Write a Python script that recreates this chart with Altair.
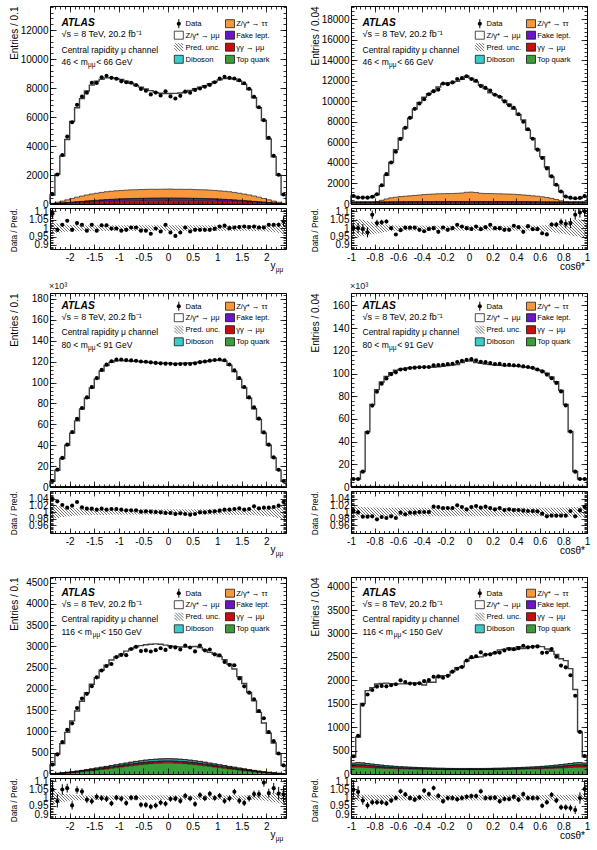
import altair as alt
import pandas as pd

FONT = "Liberation Sans"

# Bin edges of the two observables
Y_EDGES = [round(-2.4 + 0.1 * i, 2) for i in range(49)]
C_EDGES = [round(-1.0 + 0.04 * i, 2) for i in range(51)]

# ---------------- 46 < m < 66 GeV : rapidity ----------------
y46_pred = [620, 2060, 3310, 4450, 5700, 6640, 7270, 7800, 8200, 8480,
            8600, 8700, 8720, 8660, 8590, 8480, 8330, 8180, 8060, 7930,
            7820, 7700, 7640, 7620, 7620, 7630, 7660, 7720, 7830, 7950,
            8050, 8170, 8300, 8430, 8560, 8650, 8700, 8620, 8480, 8250,
            7900, 7330, 6650, 5760, 4480, 3260, 1980, 630]
y46_ratio = [1.087, 0.990, 1.020, 1.044, 0.990, 1.030, 1.020, 0.985, 1.020, 0.985,
             1.017, 1.017, 0.998, 0.998, 0.985, 0.990, 1.004, 1.004, 0.985, 0.985,
             0.967, 0.998, 0.980, 1.020, 0.974, 0.954, 0.974, 1.004, 0.980, 0.990,
             0.990, 0.990, 0.990, 0.996, 1.010, 1.015, 1.000, 1.004, 1.007, 1.010,
             1.007, 1.010, 1.004, 1.004, 1.020, 1.020, 1.020, 1.040]
y46_err = [0.030, 0.013, 0.011, 0.010, 0.010, 0.009, 0.009, 0.009, 0.009, 0.009] + [0.009] * 28 + \
          [0.009, 0.009, 0.009, 0.009, 0.009, 0.010, 0.010, 0.011, 0.013, 0.030]
y46_unc = [0.036, 0.028, 0.024, 0.021, 0.019, 0.018, 0.017, 0.017, 0.017, 0.017] + [0.017] * 28 + \
          [0.017, 0.017, 0.017, 0.017, 0.018, 0.019, 0.021, 0.024, 0.028, 0.036]
y46_tau = [30, 80, 130, 190, 260, 320, 370, 420, 460, 490,
           520, 545, 560, 575, 580, 590, 600, 595, 610, 615,
           620, 610, 615, 620, 625, 610, 615, 610, 620, 605,
           600, 600, 590, 585, 570, 560, 545, 520, 490, 455,
           420, 375, 320, 255, 195, 130, 75, 30]
y46_fake = [3, 8, 15, 22, 30, 40, 50, 60, 70, 80,
            90, 100, 108, 115, 122, 128, 132, 136, 138, 140,
            142, 143, 144, 145, 145, 144, 143, 142, 140, 138,
            136, 132, 128, 122, 115, 108, 100, 90, 80, 70,
            60, 50, 40, 30, 22, 15, 8, 3]
y46_gg = [12, 30, 48, 62, 78, 92, 105, 118, 130, 140,
          150, 160, 168, 175, 182, 188, 192, 196, 198, 200,
          202, 203, 204, 205, 205, 204, 203, 202, 200, 198,
          196, 192, 188, 182, 175, 168, 160, 150, 140, 130,
          118, 105, 92, 78, 62, 48, 30, 12]
y46_dib = [1, 2, 3, 4, 5, 6, 7, 7, 8, 8,
           9, 9, 10, 10, 10, 10, 11, 11, 11, 11,
           11, 11, 11, 11, 11, 11, 11, 11, 11, 11,
           11, 11, 10, 10, 10, 10, 9, 9, 8, 8,
           7, 7, 6, 5, 4, 3, 2, 1]
y46_top = [2, 4, 6, 9, 12, 15, 18, 21, 24, 27,
           30, 33, 35, 37, 39, 41, 42, 43, 44, 45,
           45, 46, 46, 46, 46, 46, 46, 45, 45, 44,
           43, 42, 41, 39, 37, 35, 33, 30, 27, 24,
           21, 18, 15, 12, 9, 6, 4, 2]

# ---------------- 46 < m < 66 GeV : cos theta* ----------------
c46_pred = [780, 630, 625, 635, 660, 920, 1760, 2800, 4050, 5300,
            6420, 7400, 8370, 9250, 9900, 10400, 10750, 11000, 11400, 11700,
            11800, 11850, 11950, 12150, 12450, 12250, 11900, 11580, 11250, 10850,
            10650, 10450, 10100, 9720, 9250, 8700, 8200, 7200, 6400, 5330,
            4620, 3600, 2640, 1830, 1180, 710, 600, 520, 545, 700]
c46_ratio = [1.000, 1.000, 0.995, 0.975, 1.080, 1.030, 1.035, 1.040, 1.000, 0.962,
             0.988, 1.003, 1.003, 1.003, 0.990, 0.982, 0.995, 1.000, 0.978, 1.004,
             0.990, 1.000, 1.020, 1.010, 1.000, 0.995, 1.010, 0.994, 1.006, 1.020,
             1.000, 1.000, 0.990, 0.990, 1.014, 1.006, 0.978, 1.012, 0.994, 0.994,
             0.970, 0.963, 1.022, 1.022, 1.037, 1.026, 1.030, 1.080, 1.093, 1.100]
c46_err = [0.030, 0.030, 0.030, 0.030, 0.025, 0.020, 0.015, 0.012, 0.010, 0.009, 0.008, 0.008] + \
          [0.007] * 26 + \
          [0.008, 0.008, 0.009, 0.010, 0.012, 0.015, 0.020, 0.025, 0.030, 0.030, 0.030, 0.030]
c46_unc = [0.055, 0.052, 0.048, 0.043, 0.037, 0.032, 0.027, 0.022, 0.018, 0.016, 0.015, 0.015, 0.015] + \
          [0.015] * 24 + \
          [0.015, 0.015, 0.015, 0.016, 0.018, 0.022, 0.027, 0.032, 0.037, 0.043, 0.048, 0.052, 0.055]
c46_tau = [0, 0, 0, 0, 0, 40, 150, 280, 380, 440,
           490, 530, 560, 600, 640, 680, 710, 730, 750, 760,
           770, 780, 800, 830, 900, 920, 880, 800, 780, 770,
           760, 750, 740, 730, 710, 680, 650, 610, 570, 530,
           480, 420, 340, 230, 110, 20, 0, 0, 0, 0]
c46_fake = [40, 40, 40, 40, 40, 45, 50, 55, 60, 62,
            64, 66, 68, 70, 70, 70, 70, 70, 70, 70,
            70, 70, 70, 70, 70, 70, 70, 70, 70, 70,
            70, 70, 70, 70, 70, 70, 68, 66, 64, 62,
            60, 55, 50, 45, 40, 40, 40, 40, 40, 40]
c46_gg = [80, 80, 85, 85, 90, 90, 95, 95, 100, 100,
          105, 105, 110, 110, 110, 115, 115, 115, 120, 120,
          120, 120, 120, 120, 120, 120, 120, 120, 120, 120,
          120, 120, 115, 115, 115, 110, 110, 110, 105, 105,
          100, 100, 95, 95, 90, 90, 85, 85, 80, 80]
c46_dib = [20, 20, 20, 19, 19, 18, 18, 17, 17, 16,
           16, 16, 15, 15, 15, 15, 15, 15, 15, 15,
           15, 15, 15, 15, 15, 15, 15, 15, 15, 15,
           15, 15, 15, 15, 15, 15, 15, 16, 16, 16,
           17, 17, 18, 18, 19, 19, 20, 20, 20, 20]
c46_top = [60, 60, 58, 56, 54, 52, 50, 48, 46, 45,
           44, 43, 42, 41, 40, 40, 40, 40, 40, 40,
           40, 40, 40, 40, 40, 40, 40, 40, 40, 40,
           40, 40, 40, 40, 40, 40, 41, 42, 43, 44,
           45, 46, 48, 50, 52, 54, 56, 58, 60, 60]

# ---------------- 80 < m < 91 GeV : rapidity ----------------
y80_pred = [5550, 16100, 27300, 40000, 51600, 63300, 74600, 84900, 94700, 103500,
            111000, 116300, 119300, 120800, 121100, 120900, 120600, 120300, 120000, 119600,
            119200, 118800, 118500, 118400, 118300, 118200, 118200, 118400, 118700, 119100,
            119600, 120200, 120800, 121300, 121500, 120500, 116400, 110600, 103200, 95000,
            85000, 74900, 64700, 51600, 40000, 27900, 16200, 5570]
y80_ratio = [1.039, 1.032, 1.021, 1.013, 1.019, 1.030, 1.014, 1.010, 1.010, 1.007,
             1.010, 1.007, 1.009, 1.009, 1.007, 1.005, 1.005, 1.005, 1.001, 1.002,
             1.001, 1.000, 0.999, 0.997, 0.997, 0.994, 0.996, 0.994, 0.992, 0.994,
             0.999, 0.999, 1.001, 1.002, 1.004, 1.007, 1.007, 1.009, 1.011, 1.007,
             1.009, 1.017, 1.011, 1.013, 1.013, 1.015, 1.019, 1.030]
y80_err = [0.005, 0.003] + [0.002] * 44 + [0.003, 0.005]
y80_unc = [0.022, 0.018, 0.015, 0.013, 0.012, 0.011, 0.010, 0.010, 0.009, 0.009, 0.009, 0.009] + \
          [0.008] * 24 + \
          [0.009, 0.009, 0.009, 0.009, 0.010, 0.010, 0.011, 0.012, 0.013, 0.015, 0.018, 0.022]
y80_tau = [20, 50, 80, 110, 130, 150, 160, 170, 180, 185] + [190] * 28 + \
          [185, 180, 170, 160, 150, 130, 110, 80, 50, 20]
y80_fake = [5, 10, 15, 20, 25, 30, 35, 40, 45, 50] + [50] * 28 + \
           [50, 45, 40, 35, 30, 25, 20, 15, 10, 5]
y80_gg = [30, 60, 90, 110, 125, 135, 140, 145, 148, 150] + [150] * 28 + \
         [150, 148, 145, 140, 135, 125, 110, 90, 60, 30]
y80_dib = [20, 40, 60, 80, 95, 110, 120, 130, 135, 140] + [140] * 28 + \
          [140, 135, 130, 120, 110, 95, 80, 60, 40, 20]
y80_top = [5, 10, 15, 20, 25, 30, 35, 40, 45, 50] + [55] * 28 + \
          [50, 45, 40, 35, 30, 25, 20, 15, 10, 5]

# ---------------- 80 < m < 91 GeV : cos theta* ----------------
c80_pred = [7030, 7060, 13700, 48800, 72700, 85800, 92500, 97500, 100800, 102900,
            103800, 104600, 105100, 105400, 105600, 105700, 105800, 105600, 106000, 106500,
            107000, 107400, 108000, 109600, 111200, 111000, 109800, 109000, 108300, 107900,
            107600, 107200, 107000, 106800, 106600, 106400, 105900, 105500, 104700, 103400,
            102400, 100400, 96900, 92800, 85200, 72700, 48700, 13700, 7030, 6970]
c80_ratio = [1.004, 0.999, 0.986, 0.986, 0.987, 0.978, 0.985, 0.982, 0.987, 0.982,
             0.998, 0.993, 0.998, 0.998, 1.000, 1.000, 1.000, 1.016, 1.015, 1.012,
             1.012, 1.012, 1.020, 1.015, 1.008, 1.015, 1.018, 1.013, 1.016, 1.012,
             1.008, 1.012, 1.006, 1.008, 1.006, 1.006, 1.004, 1.003, 1.003, 1.002,
             0.995, 0.987, 0.989, 0.989, 0.989, 0.989, 1.003, 0.987, 1.005, 1.015]
c80_err = [0.006, 0.006, 0.004] + [0.002] * 44 + [0.004, 0.006, 0.006]
c80_unc = [0.017, 0.016, 0.015, 0.014] + [0.013] * 42 + [0.014, 0.015, 0.016, 0.017]
c80_tau = [20, 30, 40, 60, 80, 100, 110, 120, 125, 130] + [130] * 30 + \
          [130, 125, 120, 110, 100, 80, 60, 40, 30, 20]
c80_fake = [40] * 50
c80_gg = [250, 240, 230, 220, 210, 200, 190, 180, 170, 160] + [150] * 30 + \
         [160, 170, 180, 190, 200, 210, 220, 230, 240, 250]
c80_dib = [150] * 50
c80_top = [60] * 50

# ---------------- 116 < m < 150 GeV : rapidity ----------------
y116_pred = [210, 470, 715, 980, 1250, 1480, 1710, 1910, 2110, 2260,
             2440, 2560, 2680, 2750, 2820, 2890, 2940, 2990, 3020, 3040,
             3050, 3060, 3050, 3030, 3010, 2995, 2990, 2985, 2990, 3000,
             2975, 2920, 2860, 2820, 2760, 2690, 2580, 2470, 2290, 2130,
             1920, 1720, 1450, 1200, 960, 730, 470, 200]
y116_ratio = [1.050, 0.980, 1.050, 1.058, 0.953, 1.047, 1.037, 0.987, 0.978, 1.006,
              0.997, 0.992, 0.965, 1.000, 0.993, 0.967, 1.000, 1.000, 0.957, 0.956,
              0.945, 0.952, 0.970, 0.963, 0.992, 0.994, 0.980, 1.012, 0.995, 0.961,
              1.016, 0.996, 1.024, 0.998, 1.012, 0.980, 0.995, 1.036, 0.981, 0.968,
              0.996, 1.022, 1.022, 1.092, 1.028, 1.058, 1.025, 1.020]
y116_err = [0.050, 0.040, 0.032, 0.027, 0.025, 0.023, 0.021, 0.020, 0.019, 0.019, 0.018, 0.018] + \
           [0.017] * 24 + \
           [0.018, 0.018, 0.019, 0.019, 0.020, 0.021, 0.023, 0.025, 0.027, 0.032, 0.040, 0.050]
y116_unc = [0.045, 0.035, 0.028, 0.022, 0.018, 0.016, 0.015, 0.014, 0.014, 0.014] + [0.014] * 28 + \
           [0.014, 0.014, 0.014, 0.015, 0.016, 0.018, 0.022, 0.028, 0.035, 0.045]
y116_tau = [0, 1, 1, 2, 2, 3, 3, 4, 4, 5,
            5, 5, 6, 6, 6, 7, 7, 7, 7, 8,
            8, 8, 8, 8, 8, 8, 8, 8, 7, 7,
            7, 7, 6, 6, 6, 5, 5, 5, 4, 4,
            3, 3, 2, 2, 1, 1, 0, 0]
y116_fake = [1, 2, 3, 3, 4, 5, 5, 6, 7, 7,
             8, 8, 9, 9, 10, 10, 11, 11, 11, 12,
             12, 12, 12, 12, 12, 12, 12, 12, 12, 11,
             11, 11, 10, 10, 9, 9, 8, 8, 7, 7,
             6, 5, 5, 4, 3, 3, 2, 1]
y116_gg = [2, 4, 6, 8, 10, 12, 14, 16, 18, 20,
           22, 24, 26, 28, 30, 32, 34, 35, 36, 37,
           38, 38, 38, 38, 38, 38, 38, 38, 37, 36,
           35, 34, 32, 30, 28, 26, 24, 22, 20, 18,
           16, 14, 12, 10, 8, 6, 4, 2]
y116_dib = [1, 3, 5, 7, 9, 11, 13, 15, 17, 19,
            21, 23, 25, 27, 29, 31, 33, 35, 37, 39,
            40, 41, 42, 42, 42, 42, 41, 40, 39, 37,
            35, 33, 31, 29, 27, 25, 23, 21, 19, 17,
            15, 13, 11, 9, 7, 5, 3, 1]
y116_top = [3, 8, 14, 22, 30, 40, 52, 65, 78, 92,
            106, 120, 135, 150, 165, 180, 195, 210, 222, 234,
            244, 252, 258, 262, 262, 258, 252, 244, 234, 222,
            210, 195, 180, 165, 150, 135, 120, 106, 92, 78,
            65, 52, 40, 30, 22, 14, 8, 3]

# ---------------- 116 < m < 150 GeV : cos theta* ----------------
c116_pred = [360, 790, 1505, 1780, 1845, 1920, 1935, 1940, 1930, 1920,
             1925, 1925, 1935, 1945, 1935, 1900, 1960, 1960, 2060, 2100,
             2100, 2190, 2270, 2290, 2410, 2470, 2490, 2500, 2550, 2560,
             2590, 2650, 2660, 2690, 2650, 2720, 2680, 2710, 2720, 2730,
             2720, 2670, 2620, 2550, 2460, 2420, 2250, 1805, 900, 365]
c116_ratio = [1.050, 1.035, 0.982, 0.953, 0.972, 0.972, 0.972, 0.965, 0.982, 0.998,
              1.039, 1.020, 0.998, 0.988, 1.002, 1.043, 1.022, 1.059, 1.012, 0.978,
              0.998, 0.998, 0.990, 0.998, 1.006, 1.010, 1.010, 1.039, 0.998, 0.998,
              1.000, 0.978, 0.992, 0.992, 1.006, 0.988, 1.022, 0.998, 0.998, 0.998,
              0.951, 0.972, 1.018, 0.982, 0.941, 0.941, 0.937, 0.925, 0.998, 1.053]
c116_err = [0.050, 0.035, 0.025, 0.020, 0.018, 0.017, 0.016, 0.016] + [0.015] * 34 + \
           [0.016, 0.016, 0.017, 0.018, 0.020, 0.025, 0.035, 0.050]
c116_unc = [0.025, 0.021, 0.019, 0.018] + [0.017] * 42 + [0.018, 0.019, 0.021, 0.025]
c116_tau = [3] * 50
c116_fake = [10] * 50
c116_gg = [40, 45, 45, 40, 35, 30, 26, 22, 19, 16,
           14, 12, 10, 9, 8, 7, 6, 5, 5, 5,
           4, 4, 4, 4, 4, 4, 4, 4, 4, 4,
           5, 5, 5, 6, 7, 8, 9, 10, 12, 14,
           16, 19, 22, 26, 30, 35, 40, 45, 45, 40]
c116_dib = [30, 35, 35, 32, 30, 28, 26, 24, 22, 20,
            18, 17, 16, 15, 14, 13, 12, 12, 11, 11,
            10, 10, 10, 10, 10, 10, 10, 10, 10, 10,
            11, 11, 12, 12, 13, 14, 15, 16, 17, 18,
            20, 22, 24, 26, 28, 30, 32, 35, 35, 30]
c116_top = [150, 150, 145, 140, 135, 130, 125, 120, 118, 115,
            112, 110, 108, 106, 104, 102, 100, 98, 96, 95,
            94, 93, 92, 92, 92, 92, 92, 92, 93, 94,
            95, 96, 98, 100, 102, 104, 106, 108, 110, 112,
            115, 118, 120, 125, 130, 135, 140, 145, 150, 150]

# ---------------- styling ----------------
STACK = ["top", "gg", "fake", "dib", "tau"]          # bottom -> top
STACK_COLORS = ["#3c9c3c", "#c80e0e", "#6a16c8", "#3ccaca", "#f7983c"]

Y_TICKS = [-2, -1.5, -1, -0.5, 0, 0.5, 1, 1.5, 2]
C_TICKS = [-1, -0.8, -0.6, -0.4, -0.2, 0, 0.2, 0.4, 0.6, 0.8, 1]
Y_MINOR = [round(-2.4 + 0.1 * i, 2) for i in range(49)]
C_MINOR = [round(-1.0 + 0.04 * i, 2) for i in range(51)]

R_WIDE = dict(dom=[0.876, 1.12], ticks=[0.9, 0.95, 1, 1.05, 1.1],
              minor=[round(0.88 + 0.01 * i, 2) for i in range(25)])
R_NARROW = dict(dom=[0.937, 1.063], ticks=[0.96, 0.98, 1, 1.02, 1.04],
                minor=[round(0.94 + 0.004 * i, 3) for i in range(31)])


def panel(kind, pred, ratio, err, unc, bkg, ymax, ystep, yminor, mlo, mhi, rset, thousands=False):
    is_y = kind == "y"
    return dict(
        edges=Y_EDGES if is_y else C_EDGES,
        xticks=Y_TICKS if is_y else C_TICKS,
        xminor=Y_MINOR if is_y else C_MINOR,
        ytitle="Entries / 0.1" if is_y else "Entries / 0.04",
        is_y=is_y, pred=pred, ratio=ratio, err=err, unc=unc, bkg=bkg,
        ymax=ymax,
        yticks=[ystep * i for i in range(int(ymax // ystep) + 1)],
        yminor=[yminor * i for i in range(int(ymax // yminor) + 1)],
        mlo=mlo, mhi=mhi, rset=rset, thousands=thousands)


ROWS = [
    (panel("y", y46_pred, y46_ratio, y46_err, y46_unc,
           dict(tau=y46_tau, fake=y46_fake, gg=y46_gg, dib=y46_dib, top=y46_top),
           13660, 2000, 400, "46", "66", R_WIDE),
     panel("c", c46_pred, c46_ratio, c46_err, c46_unc,
           dict(tau=c46_tau, fake=c46_fake, gg=c46_gg, dib=c46_dib, top=c46_top),
           19300, 2000, 400, "46", "66", R_WIDE)),
    (panel("y", y80_pred, y80_ratio, y80_err, y80_unc,
           dict(tau=y80_tau, fake=y80_fake, gg=y80_gg, dib=y80_dib, top=y80_top),
           185700, 20000, 4000, "80", "91", R_NARROW, thousands=True),
     panel("c", c80_pred, c80_ratio, c80_err, c80_unc,
           dict(tau=c80_tau, fake=c80_fake, gg=c80_gg, dib=c80_dib, top=c80_top),
           171000, 20000, 4000, "80", "91", R_NARROW, thousands=True)),
    (panel("y", y116_pred, y116_ratio, y116_err, y116_unc,
           dict(tau=y116_tau, fake=y116_fake, gg=y116_gg, dib=y116_dib, top=y116_top),
           4633, 500, 100, "116", "150", R_WIDE),
     panel("c", c116_pred, c116_ratio, c116_err, c116_unc,
           dict(tau=c116_tau, fake=c116_fake, gg=c116_gg, dib=c116_dib, top=c116_top),
           4206, 500, 100, "116", "150", R_WIDE)),
]

# plot-area heights (main, ratio) and vertical shift of the in-frame text
ROW_GEOM = [(198, 41, 0.0), (194, 42, -4.5), (197, 40, -1.5)]
W = 236
ONE = pd.DataFrame({"k": [0]})


def ax(orient, values, size, **kw):
    props = dict(orient=orient, values=values, tickSize=size, offset=-size, domain=False,
                 grid=False, ticks=True, tickColor="black", tickWidth=0.8, labels=False,
                 title=None, zindex=1)
    props.update(kw)
    return alt.Axis(**props)


LABEL_STYLE = dict(labels=True, labelFont=FONT, labelFontSize=10, labelColor="black",
                   labelOverlap=False, labelFlush=False)


def axis_layers(xs, ys, xd, yd, xaxes, yaxes):
    df = pd.DataFrame({"ax": [(xd[0] + xd[1]) / 2], "ay": [(yd[0] + yd[1]) / 2]})
    out = []
    for xa, ya in zip(xaxes, yaxes):
        out.append(alt.Chart(df).mark_point(opacity=0).encode(
            x=alt.X("ax:Q", scale=xs, axis=xa),
            y=alt.Y("ay:Q", scale=ys, axis=ya)))
    return out


def txt(s, x, y, size, **kw):
    props = dict(text=s, font=FONT, fontSize=size, align="left", baseline="alphabetic",
                 color="black")
    props.update(kw)
    return alt.Chart(ONE).mark_text(**props).encode(x=alt.value(x), y=alt.value(y))


def box(cx, cy, fill, stroke="black"):
    return alt.Chart(ONE).mark_rect(fill=fill, stroke=stroke, strokeWidth=0.7).encode(
        x=alt.value(cx - 4.5), x2=alt.value(cx + 4.5),
        y=alt.value(cy - 4), y2=alt.value(cy + 4))


def hatch_glyph(cx, cy):
    # small diagonal strokes forming the hatched legend swatch
    x0, y0 = cx - 4.5, cy - 4
    segs = [(0, 5, 3, 8), (0, 2, 6, 8), (1, 0, 9, 8), (4, 0, 9, 5), (7, 0, 9, 2)]
    out = []
    for a, b, c, d in segs:
        out.append(alt.Chart(ONE).mark_rule(color="#333", strokeWidth=0.7).encode(
            x=alt.value(x0 + a), y=alt.value(y0 + b),
            x2=alt.value(x0 + c), y2=alt.value(y0 + d)))
    return out


def legend_layers(dy):
    rows = [17.7 + dy, 29.2 + dy, 41.2 + dy, 53.3 + dy]
    g1, t1, g2, t2 = 128.8, 135.5, 180.0, 186.2
    out = [
        alt.Chart(ONE).mark_rule(color="black", strokeWidth=1).encode(
            x=alt.value(g1), y=alt.value(rows[0] - 4.5), y2=alt.value(rows[0] + 4.5)),
        alt.Chart(ONE).mark_circle(size=17, color="black", opacity=1).encode(
            x=alt.value(g1), y=alt.value(rows[0])),
        box(g2, rows[0], STACK_COLORS[4]),
        box(g1, rows[1], "white"),
        box(g2, rows[1], STACK_COLORS[2]),
        box(g2, rows[2], STACK_COLORS[1]),
        box(g1, rows[3], STACK_COLORS[3]),
        box(g2, rows[3], STACK_COLORS[0]),
    ]
    out += hatch_glyph(g1, rows[2])
    labels = [("Data", t1, 0), ("Z/γ* → ττ", t2, 0), ("Z/γ* → μμ", t1, 1), ("Fake lept.", t2, 1),
              ("Pred. unc.", t1, 2), ("γγ → μμ", t2, 2), ("Diboson", t1, 3), ("Top quark", t2, 3)]
    for s, x, r in labels:
        out.append(txt(s, x, rows[r] + 0.3, 7.6, baseline="middle"))
    return out


def atlas_layers(p, dy):
    x0 = 11.5
    wide = len(p["mlo"]) == 3
    m_w = 26.2 + (4.7 if wide else 0)
    return [
        txt("ATLAS", x0, 20 + dy, 10.2, fontWeight="bold", fontStyle="italic"),
        txt("√s = 8 TeV, 20.2 fb⁻¹", x0, 31.2 + dy, 9),
        txt("Central rapidity μ channel", x0, 46.7 + dy, 8.5),
        txt(p["mlo"] + " < m", x0, 59 + dy, 8.5),
        txt("μμ", x0 + m_w + 0.3, 61 + dy, 6.5),
        txt(" < " + p["mhi"] + " GeV", x0 + m_w + 8.5, 59 + dy, 8.5),
    ]


def main_panel(p, H, dy):
    edges = p["edges"]
    n = len(edges) - 1
    xd = [edges[0], edges[-1]]
    yd = [0, p["ymax"]]
    xs = alt.Scale(domain=xd, nice=False, zero=False)
    ys = alt.Scale(domain=yd, nice=False, zero=False)

    # stacked background processes, one step band per process
    rows = []
    base = [0.0] * n
    for comp in STACK:
        vals = p["bkg"][comp]
        top = [base[i] + vals[i] for i in range(n)]
        for i, e in enumerate(edges):
            j = min(i, n - 1)
            rows.append({"x": e, "lo": base[j], "hi": top[j], "comp": comp})
        base = top
    bk = pd.DataFrame(rows)

    pred = p["pred"]
    pf = pd.DataFrame({"x": [edges[0]] + edges[:n] + [edges[n]],
                       "y": [0.0] + list(pred) + [0.0]})
    pf["o"] = range(len(pf))

    centers = [(edges[i] + edges[i + 1]) / 2 for i in range(n)]
    pts = pd.DataFrame({"c": centers, "d": [pred[i] * p["ratio"][i] for i in range(n)]})

    X = lambda f: alt.X(f, scale=xs, axis=None)
    Y = lambda f: alt.Y(f, scale=ys, axis=None)

    layers = [
        alt.Chart(bk).mark_area(interpolate="step-after").encode(
            x=X("x:Q"), y=alt.Y("hi:Q", scale=ys, axis=None, stack=False), y2="lo:Q",
            color=alt.Color("comp:N", scale=alt.Scale(domain=STACK, range=STACK_COLORS),
                            legend=None)),
        alt.Chart(bk).mark_line(interpolate="step-after", color="black", strokeWidth=0.6).encode(
            x=X("x:Q"), y=Y("hi:Q"), detail="comp:N"),
        alt.Chart(pf).mark_line(interpolate="step-after", color="#404040", strokeWidth=1.4).encode(
            x=X("x:Q"), y=Y("y:Q"), order="o:Q"),
        alt.Chart(pts).mark_circle(size=17, color="black", opacity=1).encode(
            x=X("c:Q"), y=Y("d:Q")),
    ]

    lab_expr = "'' + round(datum.value / 1000)" if p["thousands"] else "'' + datum.value"
    left = ax("left", p["yticks"], 6, labelPadding=2, labelExpr=lab_expr,
              title=p["ytitle"], titleFont=FONT, titleFontSize=10, titleFontWeight="normal",
              titleColor="black", titleAngle=270, titleAlign="right", titleBaseline="middle",
              titleX=-42, titleY=0, **LABEL_STYLE)
    xaxes = [ax("bottom", p["xticks"], 6), ax("bottom", p["xminor"], 3),
             ax("top", p["xticks"], 6), ax("top", p["xminor"], 3)]
    yaxes = [left, ax("left", p["yminor"], 3),
             ax("right", p["yticks"], 6), ax("right", p["yminor"], 3)]
    layers += axis_layers(xs, ys, xd, yd, xaxes, yaxes)
    layers += legend_layers(dy)
    layers += atlas_layers(p, dy)
    if p["thousands"]:
        layers += [txt("×10³", -1, -4.5, 9, color="#222")]

    return alt.layer(*layers).properties(width=W, height=H).resolve_axis(
        x="independent", y="independent")


def hatch_segments(edges, unc, rdom, Hr, step=3.0):
    x0, x1 = edges[0], edges[-1]
    r0, r1 = rdom
    sx = W / (x1 - x0)
    sy = Hr / (r1 - r0)
    rows = []
    for i, u in enumerate(unc):
        X0 = (edges[i] - x0) * sx
        X1 = (edges[i + 1] - x0) * sx
        Yt = (r1 - (1 + u)) * sy
        Yb = (r1 - (1 - u)) * sy
        for k in range(int(-W / step) - 2, int(Hr / step) + 3):
            c = k * step
            a = max(X0, Yt - c)
            b = min(X1, Yb - c)
            if b - a > 1e-6:
                rows.append({"xa": x0 + a / sx, "xb": x0 + b / sx,
                             "ya": r1 - (a + c) / sy, "yb": r1 - (b + c) / sy})
    return pd.DataFrame(rows)


def ratio_panel(p, Hr):
    edges = p["edges"]
    n = len(edges) - 1
    rs = p["rset"]
    xd = [edges[0], edges[-1]]
    xs = alt.Scale(domain=xd, nice=False, zero=False)
    ys = alt.Scale(domain=rs["dom"], nice=False, zero=False)
    X = lambda f: alt.X(f, scale=xs, axis=None)
    Y = lambda f: alt.Y(f, scale=ys, axis=None)

    hatch = hatch_segments(edges, p["unc"], rs["dom"], Hr)
    centers = [(edges[i] + edges[i + 1]) / 2 for i in range(n)]
    pts = pd.DataFrame({"c": centers, "r": p["ratio"],
                        "lo": [p["ratio"][i] - p["err"][i] for i in range(n)],
                        "hi": [p["ratio"][i] + p["err"][i] for i in range(n)]})

    layers = [
        alt.Chart(hatch).mark_rule(color="#2a2a2a", strokeWidth=0.65, clip=True).encode(
            x=X("xa:Q"), x2="xb:Q", y=Y("ya:Q"), y2="yb:Q"),
        alt.Chart(pts).mark_rule(color="black", strokeWidth=1, clip=True).encode(
            x=X("c:Q"), y=Y("lo:Q"), y2="hi:Q"),
        alt.Chart(pts).mark_circle(size=17, color="black", opacity=1, clip=True).encode(
            x=X("c:Q"), y=Y("r:Q")),
    ]
    bottom = ax("bottom", p["xticks"], 5, labelPadding=3, labelExpr="'' + datum.value",
                **LABEL_STYLE)
    left = ax("left", rs["ticks"], 6, labelPadding=2, labelExpr="'' + datum.value",
              title="Data / Pred.", titleFont=FONT, titleFontSize=8.2, titleFontWeight="normal",
              titleColor="black", titleAngle=270, titleAlign="right", titleBaseline="middle",
              titleX=-42, titleY=0, **LABEL_STYLE)
    xaxes = [bottom, ax("bottom", p["xminor"], 2.5), ax("top", p["xticks"], 5),
             ax("top", p["xminor"], 2.5)]
    yaxes = [left, ax("left", rs["minor"], 3), ax("right", rs["ticks"], 6),
             ax("right", rs["minor"], 3)]
    layers += axis_layers(xs, ys, xd, rs["dom"], xaxes, yaxes)
    if p["is_y"]:
        layers += [txt("y", W - 10.5, Hr + 20, 10, align="right"),
                   txt("μμ", W - 10.2, Hr + 22.5, 6.5)]
    else:
        layers += [txt("cosθ*", W - 2, Hr + 21, 10, align="right")]
    return alt.layer(*layers).properties(width=W, height=Hr).resolve_axis(
        x="independent", y="independent")


def spacer():
    return alt.Chart(ONE).mark_point(opacity=0).encode(
        x=alt.value(0), y=alt.value(0)).properties(
        width=W, height=36, view=alt.ViewBackground(stroke="transparent"))


cells = []
for idx, (left_p, right_p) in enumerate(ROWS):
    H, Hr, dy = ROW_GEOM[idx]
    cells += [main_panel(left_p, H, dy), main_panel(right_p, H, dy)]
    cells += [ratio_panel(left_p, Hr), ratio_panel(right_p, Hr)]
    if idx < len(ROWS) - 1:
        cells += [spacer(), spacer()]

chart = alt.ConcatChart(
    concat=cells, columns=2, spacing={"row": 4, "column": 65}, bounds="flush",
    padding={"left": 8, "top": 5, "right": 4, "bottom": 4}, background="white",
).configure_view(stroke="black", strokeWidth=1)

chart.save("out.html", embed_options={"renderer": "svg", "actions": False})
